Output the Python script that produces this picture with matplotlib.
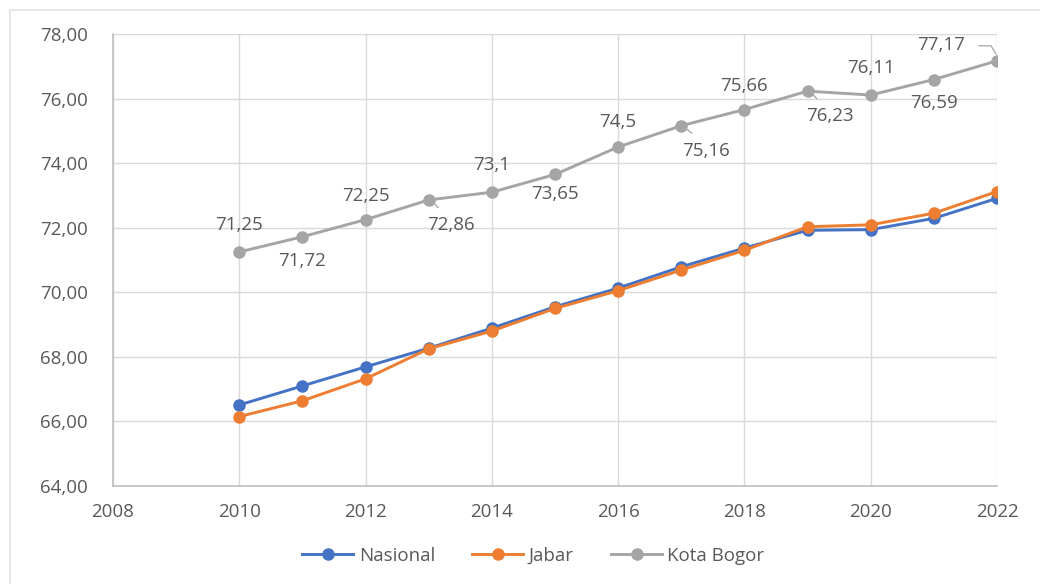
import matplotlib
matplotlib.use("Agg")
import matplotlib.pyplot as plt
from matplotlib.lines import Line2D
from matplotlib.transforms import Affine2D

# data
years = [2010, 2011, 2012, 2013, 2014, 2015, 2016, 2017, 2018, 2019, 2020, 2021, 2022]
nasional = [66.51, 67.10, 67.69, 68.27, 68.89, 69.55, 70.13, 70.79, 71.37, 71.92, 71.94, 72.29, 72.91]
jabar = [66.15, 66.64, 67.32, 68.25, 68.80, 69.50, 70.05, 70.69, 71.30, 72.03, 72.09, 72.45, 73.12]
kota_bogor = [71.25, 71.72, 72.25, 72.86, 73.10, 73.65, 74.50, 75.16, 75.66, 76.23, 76.11, 76.59, 77.17]
bogor_labels = ["71,25", "71,72", "72,25", "72,86", "73,1", "73,65", "74,5",
                "75,16", "75,66", "76,23", "76,11", "76,59", "77,17"]

# label offsets in pixels (dx, dy) and whether a leader line is drawn
label_off = [(0, 27), (0, -24), (0, 24), (22, -25), (0, 27), (0, -20), (0, 25),
             (25, -25), (0, 24), (22, -25), (0, 27), (0, -23), (-56, 16)]
leader = [False, False, False, True, False, False, False, True, False, True, False, False, True]

GRAY_TXT = "#595959"
plt.rcParams['font.family'] = ['Open Sans', 'DejaVu Sans']

fig = plt.figure(figsize=(10.4, 5.84), dpi=100)
ax = fig.add_axes([113 / 1040, 1 - 486 / 584, 884 / 1040, 452 / 584])
ax.set_xlim(2008, 2022)
ax.set_ylim(64, 78)

ax.plot(years, nasional, color="#4472C4", lw=2.1, marker="o", ms=8, label="Nasional", zorder=3)
ax.plot(years, jabar, color="#ED7D31", lw=2.1, marker="o", ms=8, label="Jabar", zorder=4)
ax.plot(years, kota_bogor, color="#A5A5A5", lw=2.1, marker="o", ms=8, label="Kota Bogor", zorder=3)

for x, y, t, (dx, dy), ld in zip(years, kota_bogor, bogor_labels, label_off, leader):
    ax.annotate(t, (x, y), xytext=(dx, dy), textcoords="offset pixels",
                ha="center", va="center", fontsize=13.5, color=GRAY_TXT, zorder=5)
    if ld:
        px, py = ax.transData.transform((x, y))
        tr = Affine2D().translate(px, py)
        if dx > 0:
            xs, ys = [dx * 0.42, 5], [dy * 0.3, -3]
        else:
            xs, ys = [-18, -6, -1], [15, 15, 7]
        ax.add_line(Line2D(xs, ys, transform=tr, color="#A5A5A5", lw=0.9, zorder=2))

ax.set_xticks(range(2008, 2023, 2))
ax.set_yticks(range(64, 79, 2))
ax.set_yticklabels([f"{v},00" for v in range(64, 79, 2)])
ax.tick_params(length=0, labelsize=13.5, labelcolor=GRAY_TXT)
ax.tick_params(axis="y", pad=18)
ax.tick_params(axis="x", pad=12)
ax.grid(True, color="#D9D9D9", lw=1.0)
ax.set_axisbelow(True)
for s in ["top", "right"]:
    ax.spines[s].set_visible(False)
for s in ["left", "bottom"]:
    ax.spines[s].set_color("#BFBFBF")
    ax.spines[s].set_linewidth(1.2)

leg = fig.legend(loc="center", bbox_to_anchor=(0.513, 1 - 556 / 584), ncol=3, frameon=False,
                 fontsize=13.5, handlelength=2.7, columnspacing=2.0, handletextpad=0.3)
for t in leg.get_texts():
    t.set_color(GRAY_TXT)

# faint outer frame from the screenshot
fig.add_artist(Line2D([10 / 1040, 10 / 1040], [0, 1 - 10 / 584], transform=fig.transFigure,
                      color="#E3E3E3", lw=1.2))
fig.add_artist(Line2D([10 / 1040, 1], [1 - 10 / 584, 1 - 10 / 584], transform=fig.transFigure,
                      color="#E3E3E3", lw=1.2))

fig.savefig("out.png", dpi=100)
